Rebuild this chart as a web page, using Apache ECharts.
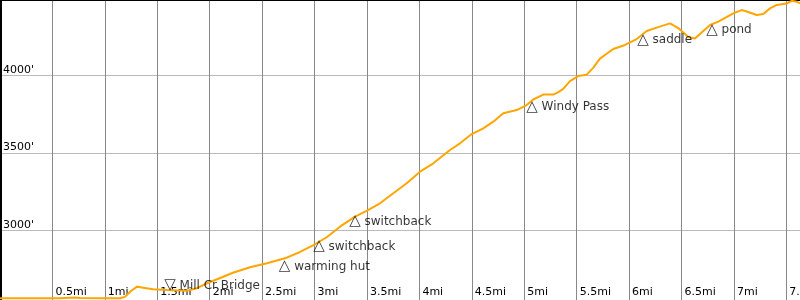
<!DOCTYPE html>
<html>
<head>
<meta charset="utf-8">
<script src="https://cdn.jsdelivr.net/npm/echarts@6/dist/echarts.min.js"></script>
<style>
html,body{margin:0;padding:0;background:#fff;}
#chart{width:800px;height:300px;}
</style>
</head>
<body>
<div id="chart"></div>
<script>
// distance along trail (miles)
var distances = [0.000, 0.286, 0.572, 0.668, 0.715, 0.763, 0.954, 1.144, 1.192, 1.249, 1.307, 1.383, 1.459, 1.593, 1.717, 1.784, 1.879, 1.974, 2.070, 2.222, 2.384, 2.546, 2.718, 2.861, 2.985, 3.116, 3.243, 3.386, 3.497, 3.624, 3.751, 3.879, 4.006, 4.133, 4.292, 4.387, 4.499, 4.609, 4.705, 4.800, 4.928, 5.023, 5.086, 5.182, 5.277, 5.325, 5.372, 5.436, 5.515, 5.596, 5.659, 5.722, 5.849, 5.961, 6.072, 6.168, 6.263, 6.390, 6.469, 6.565, 6.628, 6.676, 6.772, 6.851, 6.994, 7.074, 7.122, 7.217, 7.280, 7.344, 7.408, 7.503, 7.551, 7.598, 7.630];
// elevation (feet)
var elevations = [2561, 2561, 2561, 2565, 2566, 2563, 2561, 2561, 2570, 2608, 2636, 2628, 2619, 2615, 2612, 2610, 2626, 2658, 2684, 2726, 2761, 2787, 2819, 2860, 2902, 2955, 3023, 3088, 3125, 3174, 3239, 3303, 3378, 3432, 3518, 3561, 3621, 3658, 3701, 3755, 3776, 3808, 3844, 3876, 3876, 3892, 3912, 3963, 3995, 4004, 4050, 4108, 4170, 4196, 4234, 4286, 4308, 4335, 4305, 4247, 4237, 4267, 4325, 4346, 4400, 4421, 4412, 4389, 4395, 4432, 4454, 4463, 4481, 4475, 4465];

// waypoints
var wpNames = ['Mill Cr Bridge', 'warming hut', 'switchback', 'switchback', 'Windy Pass', 'saddle', 'pond'];
var wpDist = [1.628, 2.721, 3.049, 3.392, 5.081, 6.139, 6.797];
var wpElev = [2615, 2808, 2937, 3099, 3836, 4271, 4336];
var wpDown = [true, false, false, false, false, false, false];

var xMin = 0, xMax = 7.63, xStep = 0.5;
var yMin = 2500, yMax = 4486, yStep = 500;
var yVisibleMin = 2550;

var lineData = distances.map(function (d, i) { return [d, elevations[i]]; });
var wpData = wpNames.map(function (n, i) {
  return {
    name: '{tri|' + (wpDown[i] ? '\u25BD' : '\u25B3') + '} ' + n,
    value: [wpDist[i], wpElev[i]],
    label: wpDown[i]
      ? { position: [-6, 3], verticalAlign: 'bottom' }
      : { position: [-6, 0], verticalAlign: 'top' }
  };
});

var H = 300;
var pxPerFt = H / (yMax - yVisibleMin);
var gridBottom = -(yVisibleMin - yMin) * pxPerFt;

var FONT = 'DejaVu Sans';
var chart = echarts.init(document.getElementById('chart'), null, { renderer: 'canvas' });
chart.setOption({
  animation: false,
  grid: [
    { left: 0, right: 0, top: 0, bottom: gridBottom, containLabel: false, outerBoundsMode: 'none' },
    { left: 0, right: 0, top: 0, height: 10, containLabel: false, outerBoundsMode: 'none' }
  ],
  xAxis: [{
    gridIndex: 0,
    type: 'value', min: xMin, max: xMax, interval: xStep,
    position: 'bottom',
    axisLine: { show: false },
    axisTick: { show: false },
    axisLabel: {
      inside: true, margin: 2 - gridBottom, showMinLabel: false, showMaxLabel: false,
      formatter: function (v) { return v + 'mi'; },
      color: '#000', fontFamily: FONT, fontSize: 11, align: 'left',
      padding: [0, 0, 0, 3]
    },
    splitLine: { show: true, showMinLine: false, showMaxLine: false, lineStyle: { color: '#888888', width: 1 } }
  }, {
    gridIndex: 1,
    type: 'value', min: xMin, max: xMax, position: 'top',
    axisLine: { show: true, onZero: false, lineStyle: { color: '#000', width: 2 } },
    axisTick: { show: false }, axisLabel: { show: false }, splitLine: { show: false }
  }],
  yAxis: [{
    gridIndex: 0,
    type: 'value', min: yMin, max: yMax, interval: yStep,
    axisLine: { show: true, onZero: false, lineStyle: { color: '#000', width: 3 } },
    axisTick: { show: false },
    axisLabel: {
      inside: true, margin: 3, showMinLabel: false, showMaxLabel: false,
      formatter: function (v) { return v + "'"; },
      color: '#000', fontFamily: FONT, fontSize: 11, verticalAlign: 'bottom'
    },
    splitLine: { show: true, showMinLine: false, showMaxLine: false, lineStyle: { color: '#bbbbbb', width: 1 } }
  }, {
    gridIndex: 1, type: 'value', min: 0, max: 1, show: false
  }],
  series: [{
    type: 'line', data: lineData, symbol: 'none', smooth: false,
    lineStyle: { color: '#FFA500', width: 2 }, z: 3
  }, {
    type: 'scatter', data: wpData, symbol: 'circle', symbolSize: 1,
    itemStyle: { color: 'rgba(0,0,0,0)' },
    labelLayout: { hideOverlap: false },
    label: {
      show: true, formatter: '{b}', align: 'left',
      color: '#000', fontFamily: FONT, fontSize: 12, lineHeight: 14,
      rich: {
        tri: { fontFamily: FONT, fontSize: 15, color: '#000', lineHeight: 14 }
      }
    },
    z: 4
  }]
});
</script>
</body>
</html>
